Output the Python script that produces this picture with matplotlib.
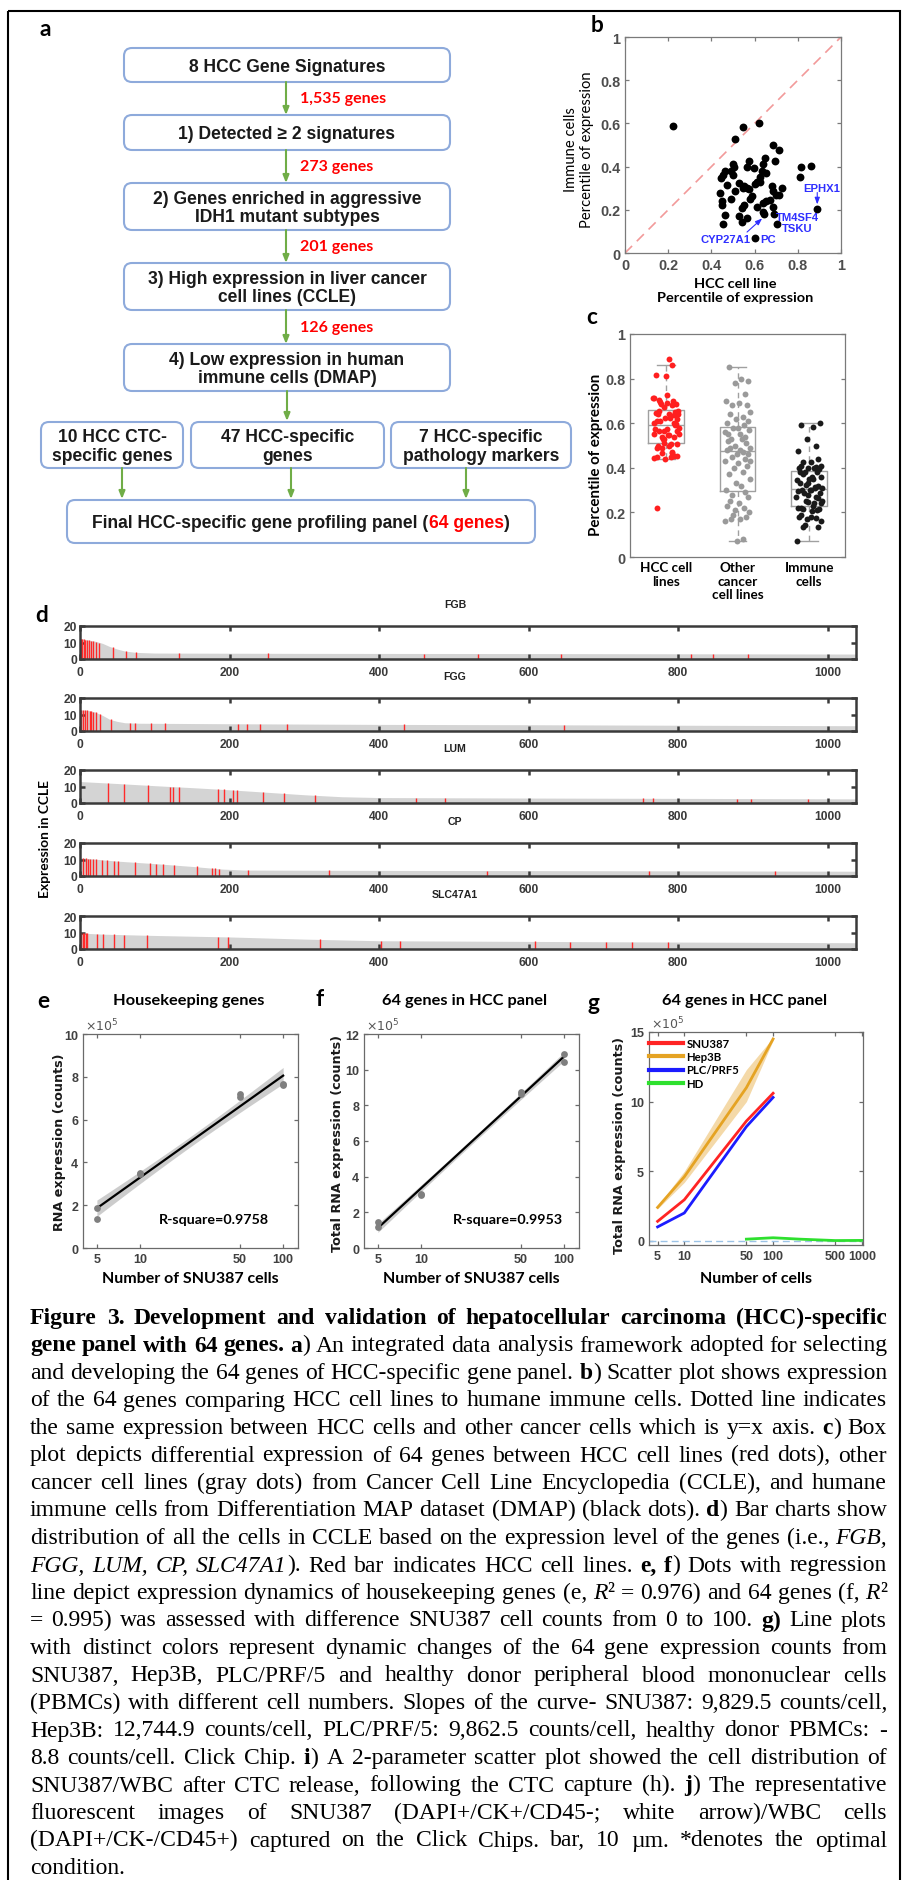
import numpy as np
import matplotlib
matplotlib.use("Agg")
import matplotlib.pyplot as plt
from matplotlib.patches import FancyBboxPatch, Rectangle
from matplotlib.ticker import NullLocator

# ------------------------------------------------------------------ data
flow_steps = ["8 HCC Gene Signatures",
              "1) Detected \u2265 2 signatures",
              "2) Genes enriched in aggressive\nIDH1 mutant subtypes",
              "3) High expression in liver cancer\ncell lines (CCLE)",
              "4) Low expression in human\nimmune cells (DMAP)"]
flow_counts = ["1,535 genes", "273 genes", "201 genes", "126 genes"]
flow_groups = ["10 HCC CTC-\nspecific genes", "47 HCC-specific\ngenes",
               "7 HCC-specific\npathology markers"]
final_panel = ["Final HCC-specific gene profiling panel (", "64 genes", ")"]

# panel b / c : percentile of expression of the 64 genes
hcc_pct = [0.22, 0.545, 0.62, 0.51, 0.685, 0.715, 0.575, 0.65, 0.695, 0.64,
           0.50, 0.505, 0.565, 0.595, 0.815, 0.86, 0.81, 0.465, 0.455, 0.445,
           0.50, 0.635, 0.655, 0.625, 0.61, 0.60, 0.53, 0.55, 0.565, 0.545,
           0.575, 0.47, 0.44, 0.507, 0.685, 0.70, 0.715, 0.725, 0.59, 0.49,
           0.447, 0.447, 0.655, 0.672, 0.64, 0.55, 0.54, 0.61, 0.685, 0.64,
           0.69, 0.645, 0.465, 0.53, 0.565, 0.54, 0.455, 0.705, 0.89, 0.60,
           0.68, 0.625, 0.58, 0.49]
immune_pct = [0.59, 0.585, 0.60, 0.53, 0.50, 0.475, 0.425, 0.44, 0.425, 0.41,
              0.41, 0.40, 0.40, 0.395, 0.40, 0.405, 0.35, 0.38, 0.36, 0.345,
              0.36, 0.38, 0.37, 0.35, 0.33, 0.32, 0.325, 0.31, 0.30, 0.30,
              0.295, 0.315, 0.28, 0.285, 0.285, 0.27, 0.27, 0.30, 0.265, 0.25,
              0.24, 0.22, 0.24, 0.245, 0.23, 0.22, 0.21, 0.215, 0.215, 0.19,
              0.18, 0.18, 0.175, 0.17, 0.16, 0.145, 0.135, 0.135, 0.205, 0.07,
              0.31, 0.33, 0.25, 0.38]
other_pct = [0.85, 0.80, 0.79, 0.78, 0.73, 0.70, 0.69, 0.68, 0.68, 0.65,
             0.64, 0.63, 0.62, 0.61, 0.60, 0.59, 0.58, 0.58, 0.57, 0.56,
             0.55, 0.54, 0.53, 0.53, 0.52, 0.51, 0.50, 0.49, 0.49, 0.48,
             0.48, 0.47, 0.46, 0.46, 0.45, 0.44, 0.43, 0.42, 0.41, 0.40,
             0.38, 0.37, 0.35, 0.33, 0.32, 0.30, 0.29, 0.28, 0.27, 0.25,
             0.24, 0.23, 0.22, 0.21, 0.20, 0.19, 0.18, 0.17, 0.17, 0.16,
             0.08, 0.07, 0.43, 0.55]
jitter = [-0.12, 0.05, 0.15, -0.03, 0.10, -0.16, 0.02, 0.13, -0.08, 0.17,
          -0.11, 0.07, -0.02, 0.14, -0.14, 0.09, 0.00, -0.06, 0.16, -0.17,
          0.04, 0.11, -0.09, 0.06, -0.13, 0.12, -0.04, 0.18, -0.10, 0.03,
          -0.15, 0.08, -0.01, 0.15, -0.07, 0.10, -0.18, 0.01, 0.13, -0.05,
          0.07, -0.12, 0.17, -0.02, 0.05, -0.16, 0.11, -0.08, 0.14, -0.11,
          0.02, -0.14, 0.09, -0.03, 0.16, -0.06, 0.12, -0.09, 0.04, -0.17,
          0.08, -0.01, 0.18, -0.13]
box_labels = ["HCC cell\nlines", "Other\ncancer\ncell lines", "Immune\ncells"]
b_ticks = [0, 0.2, 0.4, 0.6, 0.8, 1]
b_ticklabels = ["0", "0.2", "0.4", "0.6", "0.8", "1"]
b_genes = ["EPHX1", "TM4SF4", "TSKU", "CYP27A1", "PC"]

# panel d : sorted CCLE expression profiles (breakpoints) and HCC lines (red)
d_genes = ["FGB", "FGG", "LUM", "CP", "SLC47A1"]
d_prof_x = [
    [0, 10, 20, 30, 40, 50, 60, 75, 100, 300, 600, 900, 1038],
    [0, 10, 20, 30, 40, 50, 60, 80, 200, 400, 600, 800, 1038],
    [0, 50, 100, 150, 200, 250, 300, 350, 400, 600, 800, 1038],
    [0, 25, 50, 100, 150, 190, 220, 400, 700, 1038],
    [0, 8, 30, 100, 200, 300, 400, 600, 800, 1038]]
d_prof_y = [
    [12.5, 11.5, 10.8, 9.5, 7.5, 6.0, 4.8, 4.0, 3.6, 3.4, 3.3, 3.1, 3.0],
    [12.8, 12.5, 11.5, 9.5, 7.0, 5.8, 5.0, 4.7, 4.4, 4.0, 3.8, 3.5, 3.2],
    [13.0, 11.8, 10.5, 9.3, 8.0, 6.5, 5.0, 3.8, 3.3, 3.0, 2.8, 2.5],
    [11.0, 10.0, 9.0, 7.5, 5.8, 4.2, 3.6, 3.4, 3.2, 2.9],
    [10.0, 9.5, 9.0, 8.2, 7.3, 6.0, 5.0, 4.6, 4.2, 3.8]]
d_red_x = [
    [1, 3, 5, 7, 9, 12, 15, 18, 22, 26, 44, 62, 75, 133, 252, 460, 532, 644, 817, 847, 893],
    [1, 4, 7, 9, 13, 15, 17, 22, 27, 42, 67, 73, 95, 114, 211, 224, 241, 277, 434, 648],
    [38, 59, 91, 121, 125, 133, 185, 192, 204, 210, 245, 273, 315, 450, 488, 753, 767, 879, 898, 974],
    [4, 8, 11, 14, 18, 22, 29, 36, 45, 51, 74, 94, 101, 111, 126, 157, 177, 180, 186, 225, 333, 544, 761, 929],
    [2, 4, 6, 8, 10, 23, 31, 45, 59, 90, 185, 198, 321, 403, 428, 608, 655, 703, 738, 786]]
d_red_y = [
    [12.4, 12.2, 12.0, 11.8, 11.6, 11.3, 11.0, 10.8, 10.5, 10.0, 7.2, 4.9, 4.0, 3.5, 3.4, 3.3, 3.3, 3.3, 3.2, 3.2, 3.1],
    [12.8, 12.7, 12.6, 12.5, 12.3, 12.0, 11.8, 11.4, 10.5, 7.5, 4.9, 4.8, 4.7, 4.6, 4.4, 4.4, 4.3, 4.3, 4.0, 3.8],
    [12.1, 11.6, 10.7, 10.0, 9.9, 9.7, 8.4, 8.2, 7.9, 7.7, 6.6, 5.8, 4.6, 3.2, 3.2, 2.85, 2.85, 2.7, 2.7, 2.6],
    [10.8, 10.7, 10.5, 10.4, 10.3, 10.1, 9.8, 9.5, 9.2, 8.9, 8.3, 7.7, 7.5, 7.3, 6.9, 5.8, 4.9, 4.8, 4.3, 3.6, 3.4, 3.3, 3.1, 3.0],
    [9.9, 9.7, 9.6, 9.5, 9.4, 9.1, 9.0, 8.8, 8.6, 8.3, 7.4, 7.3, 5.8, 5.0, 4.9, 4.6, 4.5, 4.4, 4.3, 4.3]]
d_xticks = [0, 200, 400, 600, 800, 1000]
d_yticks = [0, 10, 20]

# panels e / f : SNU387 cells vs counts (x1e5)
e_cells = [5, 5, 10, 10, 50, 50, 100, 100]
e_counts = [1.85, 1.35, 3.45, 3.50, 7.20, 7.05, 7.60, 7.65]
f_cells = [5, 5, 10, 10, 50, 50, 100, 100]
f_counts = [1.45, 1.20, 3.00, 3.05, 8.75, 8.65, 10.90, 10.45]
ef_xticks = [5, 10, 50, 100]
e_yticks = [0, 2, 4, 6, 8, 10]
f_yticks = [0, 2, 4, 6, 8, 10, 12]
e_rsq = "R-square=0.9758"
f_rsq = "R-square=0.9953"

# panel g : counts (x1e5) vs number of cells
g_cells = [5, 10, 50, 100]
g_snu387 = [1.4, 2.95, 8.6, 10.6]
g_hep3b = [2.4, 4.6, 11.0, 14.5]
g_hep3b_lo = [2.3, 4.2, 10.0, 14.4]
g_hep3b_hi = [2.5, 5.0, 12.3, 14.6]
g_plc = [1.0, 2.0, 8.2, 10.3]
g_hd_cells = [50, 100, 200, 500, 1000]
g_hd = [0.12, 0.22, 0.12, 0.02, 0.03]
g_labels = ["SNU387", "Hep3B", "PLC/PRF5", "HD"]
g_xticks = [5, 10, 50, 100, 500, 1000]
g_yticks = [0, 5, 10, 15]

caption = [
    ([("Figure 3. Development and validation of hepatocellular carcinoma (HCC)-specific", "b")], True),
    ([("gene panel with 64 genes. a", "b"), (") An integrated data analysis framework adopted for selecting", "r")], True),
    ([("and developing the 64 genes of HCC-specific gene panel. ", "r"), ("b", "b"), (") Scatter plot shows expression", "r")], True),
    ([("of the 64 genes comparing HCC cell lines to humane immune cells. Dotted line indicates", "r")], True),
    ([("the same expression between HCC cells and other cancer cells which is y=x axis. ", "r"), ("c", "b"), (") Box", "r")], True),
    ([("plot depicts differential expression of 64 genes between HCC cell lines (red dots), other", "r")], True),
    ([("cancer cell lines (gray dots) from Cancer Cell Line Encyclopedia (CCLE), and humane", "r")], True),
    ([("immune cells from Differentiation MAP dataset (DMAP) (black dots). ", "r"), ("d", "b"), (") Bar charts show", "r")], True),
    ([("distribution of all the cells in CCLE based on the expression level of the genes (i.e., ", "r"), ("FGB,", "i")], True),
    ([("FGG, LUM, CP, SLC47A1", "i"), ("). Red bar indicates HCC cell lines. ", "r"), ("e, f", "b"), (") Dots with regression", "r")], True),
    ([("line depict expression dynamics of housekeeping genes (e, ", "r"), ("R", "i"), ("\u00b2 = 0.976) and 64 genes (f, ", "r"), ("R", "i"), ("\u00b2", "r")], True),
    ([("= 0.995) was assessed with difference SNU387 cell counts from 0 to 100. ", "r"), ("g)", "b"), (" Line plots", "r")], True),
    ([("with distinct colors represent dynamic changes of the 64 gene expression counts from", "r")], True),
    ([("SNU387, Hep3B, PLC/PRF/5 and healthy donor peripheral blood mononuclear cells", "r")], True),
    ([("(PBMCs) with different cell numbers. Slopes of the curve- SNU387: 9,829.5 counts/cell,", "r")], True),
    ([("Hep3B: 12,744.9 counts/cell, PLC/PRF/5: 9,862.5 counts/cell, healthy donor PBMCs: -", "r")], True),
    ([("8.8 counts/cell. Click Chip. ", "r"), ("i", "b"), (") A 2-parameter scatter plot showed the cell distribution of", "r")], True),
    ([("SNU387/WBC after CTC release, following the CTC capture (h). ", "r"), ("j", "b"), (") The representative", "r")], True),
    ([("fluorescent images of SNU387 (DAPI+/CK+/CD45-; white arrow)/WBC cells", "r")], True),
    ([("(DAPI+/CK-/CD45+) captured on the Click Chips. bar, 10 \u00b5m. *denotes the optimal", "r")], True),
    ([("condition.", "r")], False),
]

# ------------------------------------------------------------------ figure
W, H = 902, 1881
fig = plt.figure(figsize=(W / 100, H / 100), dpi=100)
fig.patch.set_facecolor("white")
axo = fig.add_axes([0, 0, 1, 1])
axo.set_xlim(0, W)
axo.set_ylim(H, 0)
axo.axis("off")
renderer = fig.canvas.get_renderer()

SANS = "Liberation Sans"
CAL = "Lato"
SERIF = "Liberation Serif"


def fit_size(s, target, family, weight="bold"):
    """font size that gives text s a width of target pixels"""
    t = axo.text(0, 0, s, fontsize=10, family=family, fontweight=weight)
    w = t.get_window_extent(renderer).width
    t.remove()
    return 10 * target / w


def px_axes(x0, y0, x1, y1):
    return fig.add_axes([x0 / W, 1 - y1 / H, (x1 - x0) / W, (y1 - y0) / H])


def style(ax, color, lw, tlen, lcolor="#404040"):
    for s in ax.spines.values():
        s.set_color(color)
        s.set_linewidth(lw)
    ax.tick_params(which="both", direction="in", top=True, right=True,
                   length=tlen, width=lw, color=color, labelcolor=lcolor)


# border
axo.add_patch(Rectangle((8, 12), 892, 1900, fill=False, lw=1.5, ec="black"))

# panel labels
fs_lab = fit_size("d", 13, CAL)
for lab, x, y in [("a", 45, 30), ("b", 597, 25), ("c", 592, 317), ("d", 42, 615),
                  ("e", 43, 1001), ("f", 320, 1000), ("g", 593, 1003)]:
    axo.text(x, y, lab, fontsize=fs_lab, fontweight="bold", family=CAL,
             ha="center", va="center")

# ------------------------------------------------------------------ panel a
BOX_EC = "#8eaadb"
ARROW_C = "#70ad47"


def rbox(x0, y0, x1, y1):
    axo.add_patch(FancyBboxPatch((x0, y0), x1 - x0, y1 - y0,
                                 boxstyle="round,pad=0,rounding_size=8",
                                 ec=BOX_EC, fc="white", lw=1.5, zorder=2))


def arrow(x, y0, y1):
    axo.annotate("", xy=(x, y1), xytext=(x, y0),
                 arrowprops=dict(arrowstyle="-|>,head_length=0.45,head_width=0.18",
                                 color=ARROW_C, lw=1.5, shrinkA=0, shrinkB=0),
                 zorder=3)


fs_box = fit_size("3) High expression in liver cancer", 280, SANS)
fs_cnt = fit_size("1,535 genes", 86, CAL)
step_boxes = [(124, 49, 450, 83), (124, 116, 450, 151), (124, 184, 450, 231),
              (124, 264, 450, 311), (124, 345, 450, 392)]
for bx, txt in zip(step_boxes, flow_steps):
    rbox(*bx)
    axo.text((bx[0] + bx[2]) / 2, (bx[1] + bx[3]) / 2 + 1, txt, ha="center",
             va="center", fontsize=fs_box, fontweight="bold", family=SANS,
             linespacing=1.15, color="#1a1a1a", zorder=4)
for i, cnt in enumerate(flow_counts):
    y0 = step_boxes[i][3]
    y1 = step_boxes[i + 1][1]
    arrow(286, y0, y1)
    axo.text(300, (y0 + y1) / 2, cnt, color="#ff0000", fontsize=fs_cnt,
             fontweight="bold", family=CAL, va="center", ha="left")

arrow(287, 392, 422)
group_boxes = [(41, 423, 183, 469), (191, 423, 384, 469), (391, 423, 571, 469)]
group_arrow_x = [122, 291, 466]
for bx, txt, ax_x in zip(group_boxes, flow_groups, group_arrow_x):
    rbox(*bx)
    axo.text((bx[0] + bx[2]) / 2, (bx[1] + bx[3]) / 2 + 1, txt, ha="center",
             va="center", fontsize=fs_box, fontweight="bold", family=SANS,
             linespacing=1.15, color="#1a1a1a", zorder=4)
    arrow(ax_x, 469, 500)

rbox(67, 501, 535, 544)
fs_fin = fit_size("".join(final_panel), 419, SANS)
pieces = []
for s, col in zip(final_panel, ["#1a1a1a", "#ff0000", "#1a1a1a"]):
    pieces.append(axo.text(0, 524, s, fontsize=fs_fin, fontweight="bold",
                           family=SANS, color=col, va="center", ha="left",
                           zorder=4))
widths = [t.get_window_extent(renderer).width for t in pieces]
xx = 301 - sum(widths) / 2
for t, w in zip(pieces, widths):
    t.set_x(xx)
    xx += w

# ------------------------------------------------------------------ panel b
fs_tick = fit_size("0.2", 20, SANS)
axb = px_axes(625, 38, 841, 254)
axb.plot([0, 1], [0, 1], ls=(0, (6, 4)), color="#f29a9a", lw=1.2)
axb.scatter(hcc_pct, immune_pct, s=32, c="black", lw=0, zorder=3)
axb.set_xlim(0, 1)
axb.set_ylim(0, 1)
style(axb, "#7a7a7a", 0.9, 3, "#4d4d4d")
axb.set_xticks(b_ticks, b_ticklabels, fontsize=fs_tick, fontweight="bold", family=SANS)
axb.set_yticks(b_ticks, b_ticklabels, fontsize=fs_tick, fontweight="bold", family=SANS)
BLUE = "#2f2fff"
ann_kw = dict(color=BLUE, fontsize=fit_size("CYP27A1", 50, SANS),
              fontweight="bold", family=SANS, ha="center", va="center")
axb.text(0.91, 0.30, b_genes[0], **ann_kw)
axb.annotate("", xy=(0.89, 0.225), xytext=(0.89, 0.28),
             arrowprops=dict(arrowstyle="-|>,head_length=0.4,head_width=0.15",
                             color=BLUE, lw=0.8, shrinkA=0, shrinkB=0))
axb.text(0.80, 0.167, b_genes[1], **ann_kw)
axb.text(0.795, 0.116, b_genes[2], **ann_kw)
ann_kw["ha"] = "right"
axb.text(0.583, 0.066, b_genes[3], **ann_kw)
ann_kw["ha"] = "left"
axb.text(0.624, 0.063, b_genes[4], **ann_kw)
axb.annotate("", xy=(0.635, 0.16), xytext=(0.565, 0.097),
             arrowprops=dict(arrowstyle="-|>,head_length=0.4,head_width=0.15",
                             color=BLUE, lw=0.8, shrinkA=0, shrinkB=0))
fs_pe = fit_size("Percentile of expression", 157, CAL, "normal")
axo.text(579, 150, "Immune cells\nPercentile of expression", rotation=90,
         ha="center", va="center", fontsize=fs_pe, family=CAL, linespacing=1.2)
fs_pe_b = fit_size("Percentile of expression", 156, CAL)
axo.text(735, 291, "HCC cell line\nPercentile of expression", ha="center",
         va="center", fontsize=fs_pe_b, family=CAL, fontweight="bold",
         linespacing=1.2)

# ------------------------------------------------------------------ panel c
axc = px_axes(630, 335, 845, 558)
gcol = "#a0a0a0"
axc.boxplot([hcc_pct, other_pct, immune_pct], positions=[1, 2, 3], widths=0.5,
            showfliers=False, capwidths=0.25,
            boxprops=dict(color=gcol, lw=1.0),
            medianprops=dict(color=gcol, lw=1.0),
            whiskerprops=dict(color=gcol, lw=1.0, ls=(0, (4, 3))),
            capprops=dict(color=gcol, lw=1.0))
for k, (vals, col) in enumerate([(hcc_pct, "#ff1f1f"), (other_pct, "#9a9a9a"),
                                 (immune_pct, "#1a1a1a")]):
    xs = [k + 1 + j for j in jitter[:len(vals)]]
    axc.scatter(xs, vals, s=18, c=col, lw=0, zorder=3)
axc.set_xlim(0.5, 3.5)
axc.set_ylim(0, 1)
style(axc, "#7a7a7a", 0.9, 3, "#4d4d4d")
axc.tick_params(axis="x", top=False, bottom=False, labelcolor="black", pad=3)
axc.set_xticks([1, 2, 3], box_labels, fontsize=fit_size("HCC cell", 52, CAL),
               fontweight="bold", family=CAL, linespacing=1.15)
axc.set_yticks(b_ticks, b_ticklabels, fontsize=fs_tick, fontweight="bold", family=SANS)
axo.text(596, 455, "Percentile of expression", rotation=90, ha="center",
         va="center", fontsize=fit_size("Percentile of expression", 163, CAL),
         fontweight="bold", family=CAL)

# ------------------------------------------------------------------ panel d
fs_dtick = fit_size("200", 20, SANS)
fs_dtitle = fit_size("SLC47A1", 46, SANS)
d_tops = [627, 699, 771, 844, 917]
for i, g in enumerate(d_genes):
    ax = px_axes(80, d_tops[i], 856, d_tops[i] + 33)
    ax.fill_between(d_prof_x[i], d_prof_y[i], 0, color="#d4d4d4", lw=0)
    ax.vlines(d_red_x[i], 0, d_red_y[i], color="#ff2a2a", lw=1.0)
    ax.set_xlim(0, 1038)
    ax.set_ylim(0, 20)
    style(ax, "#3a3a3a", 1.8, 3.5, "#3a3a3a")
    ax.tick_params(axis="x", pad=5)
    ax.tick_params(axis="y", pad=2)
    ax.set_xticks(d_xticks, [str(v) for v in d_xticks], fontsize=fs_dtick,
                  fontweight="bold", family=SANS)
    ax.set_yticks(d_yticks, [str(v) for v in d_yticks], fontsize=fs_dtick,
                  fontweight="bold", family=SANS)
    axo.text(455, d_tops[i] - 22, g, ha="center", va="center", fontsize=fs_dtitle,
             fontweight="bold", family=SANS, color="#222222")
axo.text(45, 839, "Expression in CCLE", rotation=90, ha="center", va="center",
         fontsize=fit_size("Expression in CCLE", 118, CAL), fontweight="bold",
         family=CAL)

# ------------------------------------------------------------------ panels e, f
fs_etick = fit_size("100", 21, SANS)
fs_rsq = fit_size(e_rsq, 110, CAL)


def reg_panel(box, cells, counts, ymax, yticks, rsq, rsq_x):
    ax = px_axes(*box)
    lx = np.log10(cells)
    ys = np.asarray(counts)
    b1, b0 = np.polyfit(lx, ys, 1)
    n = len(ys)
    resid = ys - (b0 + b1 * lx)
    s = np.sqrt(np.sum(resid ** 2) / (n - 2))
    sxx = np.sum((lx - lx.mean()) ** 2)
    gl = np.linspace(lx.min(), lx.max(), 60)
    fit = b0 + b1 * gl
    band = 1.5 * s * np.sqrt(1 / n + (gl - lx.mean()) ** 2 / sxx)
    ax.fill_between(10 ** gl, fit - band, fit + band, color="#c4c4c4", lw=0,
                    alpha=0.85)
    ax.plot(10 ** gl, fit, color="black", lw=1.6)
    ax.scatter(cells, counts, s=24, c="#7f7f7f", lw=0, zorder=3)
    ax.set_xscale("log")
    ax.set_xlim(4.0, 127)
    ax.set_ylim(0, ymax)
    style(ax, "#6a6a6a", 0.9, 3, "#404040")
    ax.xaxis.set_minor_locator(NullLocator())
    ax.set_xticks(ef_xticks, [str(v) for v in ef_xticks], fontsize=fs_etick,
                  fontweight="bold", family=SANS)
    ax.set_yticks(yticks, [str(v) for v in yticks], fontsize=fs_etick,
                  fontweight="bold", family=SANS)
    ax.text(0.01, 1.005, r"$\times10^5$", transform=ax.transAxes, va="bottom",
            ha="left", fontsize=9, color="#555555")
    ax.text(rsq_x, 0.136, rsq, transform=ax.transAxes, ha="center", va="center",
            fontsize=fs_rsq, fontweight="bold", family=CAL)
    return ax


reg_panel((83, 1035, 298, 1249), e_cells, e_counts, 10, e_yticks, e_rsq, 0.61)
reg_panel((364, 1035, 579, 1249), f_cells, f_counts, 12, f_yticks, f_rsq, 0.67)

# ------------------------------------------------------------------ panel g
axg = px_axes(649, 1033, 863, 1246)
axg.axhline(0, color="#9cc3e6", ls=(0, (5, 3)), lw=1.0)
axg.fill_between(g_cells, g_hep3b_lo, g_hep3b_hi, color="#f3d59f", lw=0, alpha=0.9)
axg.plot(g_cells, g_snu387, color="#ff2424", lw=2, label=g_labels[0])
axg.plot(g_cells, g_hep3b, color="#e5a323", lw=2, label=g_labels[1])
axg.plot(g_cells, g_plc, color="#1c1cff", lw=2, label=g_labels[2])
axg.plot(g_hd_cells, g_hd, color="#2ee02e", lw=2, label=g_labels[3])
axg.set_xscale("log")
axg.set_xlim(4.0, 1030)
axg.set_ylim(-0.3, 15)
style(axg, "#6a6a6a", 0.9, 3, "#404040")
axg.xaxis.set_minor_locator(NullLocator())
axg.set_xticks(g_xticks, [str(v) for v in g_xticks], fontsize=fs_etick,
               fontweight="bold", family=SANS)
axg.set_yticks(g_yticks, [str(v) for v in g_yticks], fontsize=fs_etick,
               fontweight="bold", family=SANS)
axg.text(0.01, 1.005, r"$\times10^5$", transform=axg.transAxes, va="bottom",
         ha="left", fontsize=9, color="#555555")
fs_leg = fit_size("PLC/PRF5", 53, CAL)
leg = axg.legend(loc="upper left", bbox_to_anchor=(0.0, 0.97), frameon=False,
                 handlelength=34 / (fs_leg * 100 / 72), handletextpad=0.3,
                 labelspacing=0.18, borderaxespad=0, borderpad=0,
                 prop=dict(family=CAL, weight="bold", size=fs_leg))
for h in leg.get_lines():
    h.set_linewidth(3)

# titles / axis labels of e, f, g
fs_title = fit_size("Housekeeping genes", 152, CAL)
for x, t in [(189, "Housekeeping genes"), (465, "64 genes in HCC panel"),
             (745, "64 genes in HCC panel")]:
    axo.text(x, 1001, t, ha="center", va="center", fontsize=fs_title,
             fontweight="bold", family=CAL)
fs_xl = fit_size("Number of SNU387 cells", 178, CAL)
for x, t in [(190, "Number of SNU387 cells"), (471, "Number of SNU387 cells"),
             (756, "Number of cells")]:
    axo.text(x, 1279, t, ha="center", va="center", fontsize=fs_xl,
             fontweight="bold", family=CAL)
fs_yl = fit_size("Total RNA expression (counts)", 218, "DejaVu Sans")
for x, y, t in [(60, 1142, "RNA expression (counts)"),
                (337, 1143, "Total RNA expression (counts)"),
                (620, 1145, "Total RNA expression (counts)")]:
    axo.text(x, y, t, rotation=90, ha="center", va="center", fontsize=fs_yl,
             fontweight="bold", family="DejaVu Sans", color="#1a1a1a")

# ------------------------------------------------------------------ caption
CAP_L, CAP_R = 30, 887


def caption_line(y, segs, justify, size):
    words, cur = [], []
    for txt, st in segs:
        parts = txt.split(" ")
        for k, p in enumerate(parts):
            if k > 0 and cur:
                words.append(cur)
                cur = []
            if p:
                cur.append((p, st))
    if cur:
        words.append(cur)
    while True:
        objs = []
        for w in words:
            wl = []
            for p, st in w:
                wl.append(axo.text(0, y, p, fontsize=size, family=SERIF,
                                   fontweight="bold" if st == "b" else "normal",
                                   fontstyle="italic" if st == "i" else "normal",
                                   va="baseline", ha="left", color="black"))
            objs.append(wl)
        wid = [[t.get_window_extent(renderer).width for t in wl] for wl in objs]
        total = sum(sum(ws) for ws in wid)
        space = size * 100 / 72 * 0.2
        natural = total + space * (len(words) - 1)
        if natural <= CAP_R - CAP_L + 1 or size < 10:
            break
        for wl in objs:
            for t in wl:
                t.remove()
        size *= 0.99
    if justify and len(words) > 1:
        gap = (CAP_R - CAP_L - total) / (len(words) - 1)
    else:
        gap = space * 1.25
    x = CAP_L
    for wl, ws in zip(objs, wid):
        for t, w in zip(wl, ws):
            t.set_x(x)
            x += w
        x += gap


for i, (segs, just) in enumerate(caption):
    caption_line(1324 + i * 27.5, segs, just, 17)

fig.savefig("out.png", dpi=100, facecolor="white")
